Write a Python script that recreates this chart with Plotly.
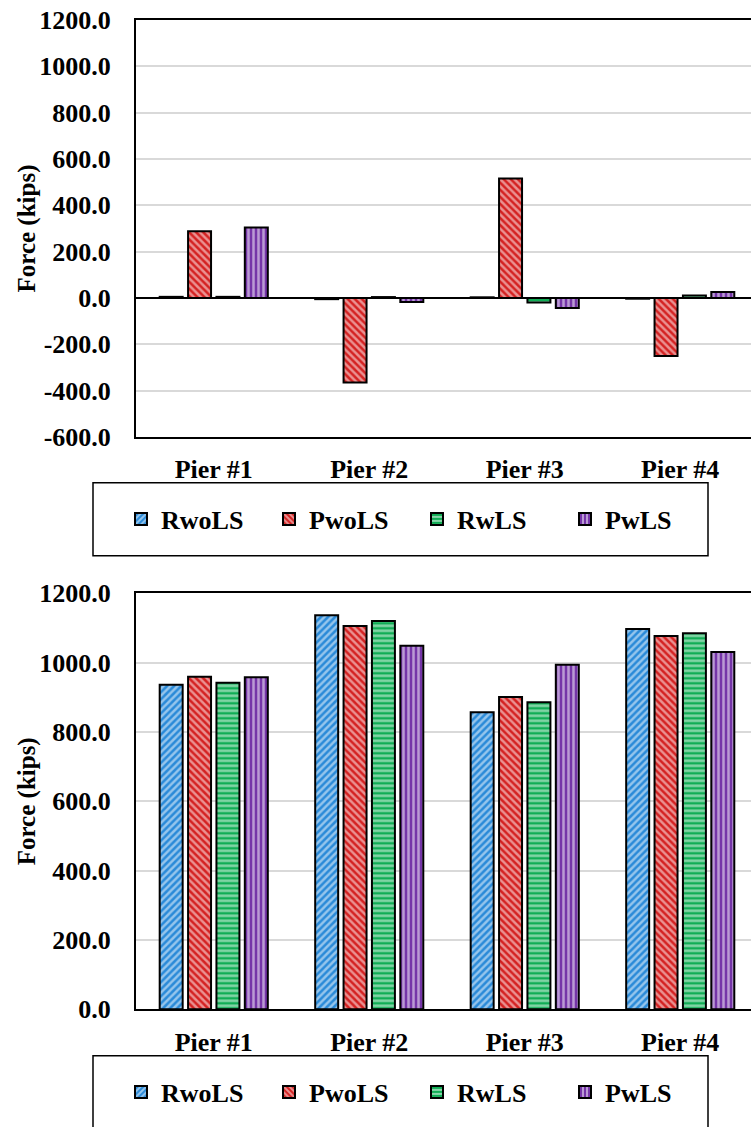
import plotly.graph_objects as go

# ---- data -------------------------------------------------------------
piers = ["Pier #1", "Pier #2", "Pier #3", "Pier #4"]
series_names = ["RwoLS", "PwoLS", "RwLS", "PwLS"]

# upper chart (kips)
upper_rwols = [5, -5, 3, -3]
upper_pwols = [288, -365, 516, -250]
upper_rwls = [5, 4, -19, 11]
upper_pwls = [304, -17, -43, 26]

# lower chart (kips)
lower_rwols = [936, 1137, 857, 1097]
lower_pwols = [959, 1106, 901, 1077]
lower_rwls = [942, 1120, 886, 1085]
lower_pwls = [958, 1049, 994, 1031]

upper_ticks = [-600, -400, -200, 0, 200, 400, 600, 800, 1000, 1200]
upper_tick_labels = ["-600.0", "-400.0", "-200.0", "0.0", "200.0", "400.0",
                     "600.0", "800.0", "1000.0", "1200.0"]
lower_ticks = [0, 200, 400, 600, 800, 1000, 1200]
lower_tick_labels = ["0.0", "200.0", "400.0", "600.0", "800.0", "1000.0", "1200.0"]

# ---- styling ----------------------------------------------------------
W, H = 751, 1127
colors = ["#2A8AD8", "#D42222", "#10AD55", "#7535A8"]
shapes = ["/", "\\", "-", "|"]
FONT = "Liberation Serif"

def px_x(px):
    return px / W

def px_y(px):
    return 1 - px / H

upper = [upper_rwols, upper_pwols, upper_rwls, upper_pwls]
lower = [lower_rwols, lower_pwols, lower_rwls, lower_pwls]

fig = go.Figure()

# coloured bars with white hatch lines on top
for i, name in enumerate(series_names):
    for vals, xa, ya, lg in ((upper[i], "x", "y", "legend"),
                             (lower[i], "x2", "y2", "legend2")):
        fig.add_trace(go.Bar(
            x=piers, y=vals, name=name, xaxis=xa, yaxis=ya, legend=lg,
            marker=dict(
                color=colors[i],
                line=dict(color="black", width=2),
                pattern=dict(shape=shapes[i], fgcolor="white",
                             size=5, solidity=0.5, fillmode="overlay"),
            ),
        ))

x_dom = [px_x(136), 1]
x_rng = [-0.5, 3.5 - 7 / 156]

axis_font = dict(family=FONT, size=26, color="black", weight="bold")

common_x = dict(domain=x_dom, range=x_rng, type="category", showgrid=False,
                showline=True, mirror=True, linecolor="black", linewidth=2,
                ticks="", tickfont=axis_font, ticklabelstandoff=8,
                automargin=False)
common_y = dict(showgrid=True, gridcolor="#D9D9D9", gridwidth=1.5,
                showline=True, linecolor="black", linewidth=2, ticks="",
                tickfont=axis_font, ticklabelstandoff=18, mirror=False,
                automargin=False)

fig.update_layout(
    width=W, height=H,
    margin=dict(l=0, r=0, t=0, b=0, autoexpand=False),
    paper_bgcolor="white", plot_bgcolor="white",
    barmode="group", bargap=0.27, bargroupgap=0.19,
    font=dict(family=FONT, color="black"),
    xaxis=dict(anchor="y", **common_x),
    xaxis2=dict(anchor="y2", **common_x),
    yaxis=dict(anchor="x", domain=[px_y(437), px_y(20)], range=[-600, 1200],
               tickvals=upper_ticks, ticktext=upper_tick_labels,
               zeroline=True, zerolinecolor="black", zerolinewidth=1.5,
               **common_y),
    yaxis2=dict(anchor="x2", domain=[px_y(1009.3), px_y(593.3)], range=[0, 1200],
                tickvals=lower_ticks, ticktext=lower_tick_labels,
                zeroline=False, **common_y),
    showlegend=True,
)

legend_common = dict(orientation="h", xanchor="left", yanchor="middle",
                      bgcolor="rgba(0,0,0,0)", borderwidth=0,
                      font=dict(family=FONT, size=26, color="black", weight="bold"),
                      entrywidth=103, entrywidthmode="pixels",
                      itemclick=False, itemdoubleclick=False)
fig.update_layout(
    legend=dict(x=px_x(121), y=px_y(519), **legend_common),
    legend2=dict(x=px_x(121), y=px_y(1092), **legend_common),
)

# legend frames
for top in (482.7, 1055.7):
    fig.add_shape(type="rect", xref="paper", yref="paper",
                  x0=px_x(93), x1=px_x(708), y0=px_y(top + 73), y1=px_y(top),
                  line=dict(color="black", width=1.5), fillcolor="rgba(0,0,0,0)",
                  layer="below")

# y-axis titles
for yc in (228.5, 801.3):
    fig.add_annotation(text="Force (kips)", xref="paper", yref="paper",
                       x=px_x(27), y=px_y(yc), textangle=-90, showarrow=False,
                       font=dict(family=FONT, size=25, color="black", weight="bold"),
                       xanchor="center", yanchor="middle")

fig.write_html("out.html")
